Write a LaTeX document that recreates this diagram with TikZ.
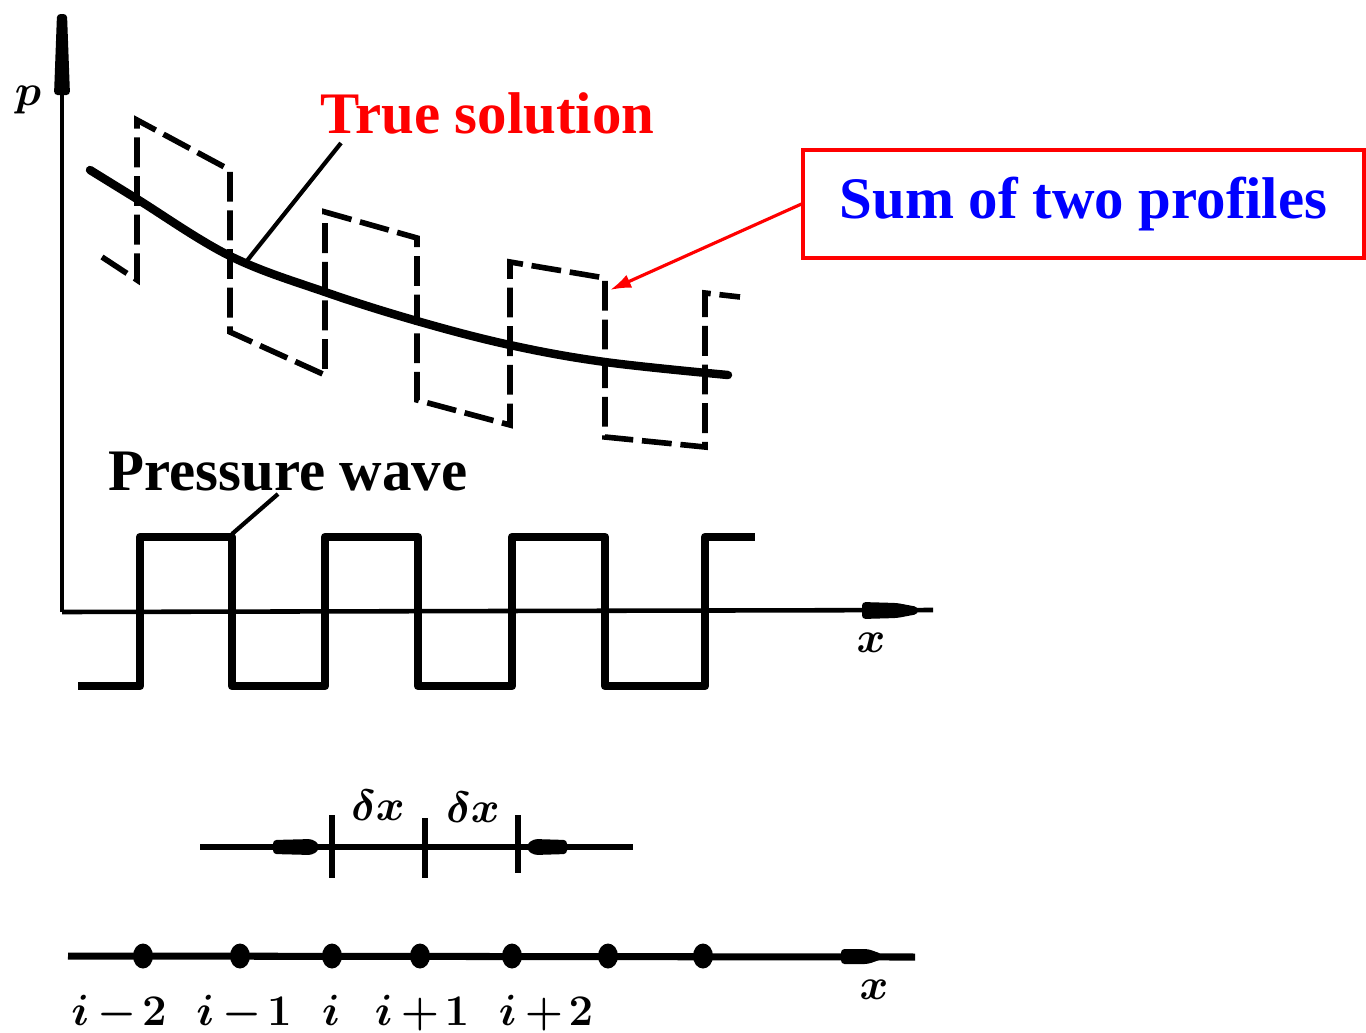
\documentclass[tikz,border=0pt]{standalone}
\usepackage{fontspec}
\setmainfont{Liberation Serif}
\usetikzlibrary{arrows.meta,calc}
\definecolor{pureRed}{RGB}{255,0,0}
\definecolor{pureBlue}{RGB}{0,0,255}
\tikzset{
  axisline/.style={line width=2.6pt},
  thickaxis/.style={line width=4pt},
  blob/.style={fill=black, rounded corners=2pt},
  wave/.style={line width=4.8pt, line join=round},
  profile/.style={line width=3.2pt, dash pattern=on 17pt off 5pt, line join=miter},
  truecurve/.style={line width=4.8pt, line cap=round},
  leader/.style={line width=2.4pt},
  tickmark/.style={line width=3pt},
  bigtxt/.style={font=\fontsize{33.5}{40}\selectfont\bfseries, inner sep=0pt},
  mathtxt/.style={font=\fontsize{29}{34}\selectfont\boldmath, inner sep=0pt},
  idxtxt/.style={font=\fontsize{31}{36}\selectfont\boldmath, inner sep=0pt},
  smallmath/.style={font=\fontsize{27}{32}\selectfont\boldmath, inner sep=0pt},
  callout/.style={draw=pureRed, line width=1.8pt, minimum width=11.22cm, minimum height=2.16cm, inner sep=0pt,
    font=\fontsize{33.5}{40}\selectfont\bfseries, text=pureBlue},
  redarrow/.style={draw=pureRed, line width=1.8pt, -{Latex[length=12pt,width=8pt]}},
}
\begin{document}
\begin{tikzpicture}[x=0.02cm,y=-0.02cm]
\useasboundingbox (0,0) rectangle (1366,1032);
\fill[white] (0,0) rectangle (1366,1032);

% ---------- axes of the upper plot ----------
\coordinate (origin) at (62,612);
\coordinate (ptop) at (62,14);
\coordinate (xend) at (933,610);
\draw[axisline] (origin) -- (ptop);
\fill[blob] (54,95) -- (70,95) -- (67,14) -- (57,14) -- cycle;
\draw[axisline] (origin) -- (xend);
\fill[blob] (862,602) -- (897,603) -- (918,607) -- (918,614) -- (897,618) -- (862,619) -- cycle;
\node[mathtxt] (plabel) at (28,100) {$p$};
\node[mathtxt] (xlabel1) at (871,643) {$x$};

% ---------- pressure wave ----------
\draw[wave] (78,686) -- (140,686) -- (140,537) -- (232,537) -- (232,686) -- (325,686)
  -- (325,537) -- (418,537) -- (418,686) -- (512,686) -- (512,537) -- (605,537)
  -- (605,686) -- (705,686) -- (705,537) -- (755,537);
\coordinate (waveCorner) at (232,534);
\node[bigtxt, anchor=base west] (pw) at (108,490) {Pressure wave};
\coordinate (pwFoot) at (278,494);
\draw[leader] (pwFoot) -- (waveCorner);

% ---------- sum of two profiles (dashed) ----------
\draw[profile] (102,257) -- (137,280) -- (137,120) -- (230,170) -- (230,332) -- (325,375)
  -- (325,212) -- (417,238) -- (417,400) -- (510,425) -- (510,262) -- (605,278)
  -- (605,437) -- (705,447) -- (705,293) -- (740,297);

% ---------- true solution ----------
\draw[truecurve] plot[smooth, tension=0.6] coordinates {(90,170) (137,199) (230,256) (325,292) (417,321) (510,345) (605,362) (728,375)};
\node[bigtxt, text=pureRed, anchor=base west] (ts) at (320,133) {True solution};
\coordinate (tsFoot) at (341,143);
\coordinate (tsOnCurve) at (246,262);
\draw[leader] (tsFoot) -- (tsOnCurve);

% ---------- callout ----------
\node[callout] (sum) at (1083.5,204) {Sum of two profiles};
\coordinate (profTip) at (610,290);
\draw[redarrow] (sum.west) -- (profTip);

% ---------- delta x scale ----------
\coordinate (dl) at (200,847);
\coordinate (dr) at (633,847);
\draw[tickmark] (dl) -- (dr);
\fill[blob] (273,840) -- (312,839) -- (319,844) -- (319,850) -- (312,855) -- (273,854) -- cycle;
\fill[blob] (527,844) -- (534,839) -- (567,840) -- (567,854) -- (534,855) -- (527,850) -- cycle;
\coordinate (t1a) at (332,815); \coordinate (t1b) at (332,878);
\coordinate (t2a) at (425,818); \coordinate (t2b) at (425,878);
\coordinate (t3a) at (518,815); \coordinate (t3b) at (518,873);
\draw[tickmark] (t1a) -- (t1b);
\draw[tickmark] (t2a) -- (t2b);
\draw[tickmark] (t3a) -- (t3b);
\node[smallmath] (dx1) at (378,805) {$\delta x$};
\node[smallmath] (dx2) at (473,807) {$\delta x$};

% ---------- grid line ----------
\coordinate (gl) at (68,956);
\coordinate (gr) at (915,957);
\draw[thickaxis] (gl) -- (gr);
\fill[blob] (841,949) -- (868,949) -- (882,954) -- (882,959) -- (868,964) -- (841,964) -- cycle;
\foreach \px/\nm in {143/g1,240/g2,332/g3,420/g4,512/g5,608/g6,703/g7}{
  \fill (\px,956) ellipse [x radius=10, y radius=12.5];
  \coordinate (\nm) at (\px,956);
}
\node[idxtxt, anchor=base] (lm2) at (119,1025) {$i\mkern3mu{-}\mkern2mu2$};
\node[idxtxt, anchor=base] (lm1) at (244,1025) {$i\mkern3mu{-}\mkern2mu1$};
\node[idxtxt, anchor=base] (l0) at (331,1025) {$i$};
\node[idxtxt, anchor=base] (lp1) at (422,1025) {$i\mkern3mu{+}\mkern2mu1$};
\node[idxtxt, anchor=base] (lp2) at (546,1025) {$i\mkern3mu{+}\mkern2mu2$};
\node[mathtxt] (xlabel2) at (874,990) {$x$};
\end{tikzpicture}
\end{document}
